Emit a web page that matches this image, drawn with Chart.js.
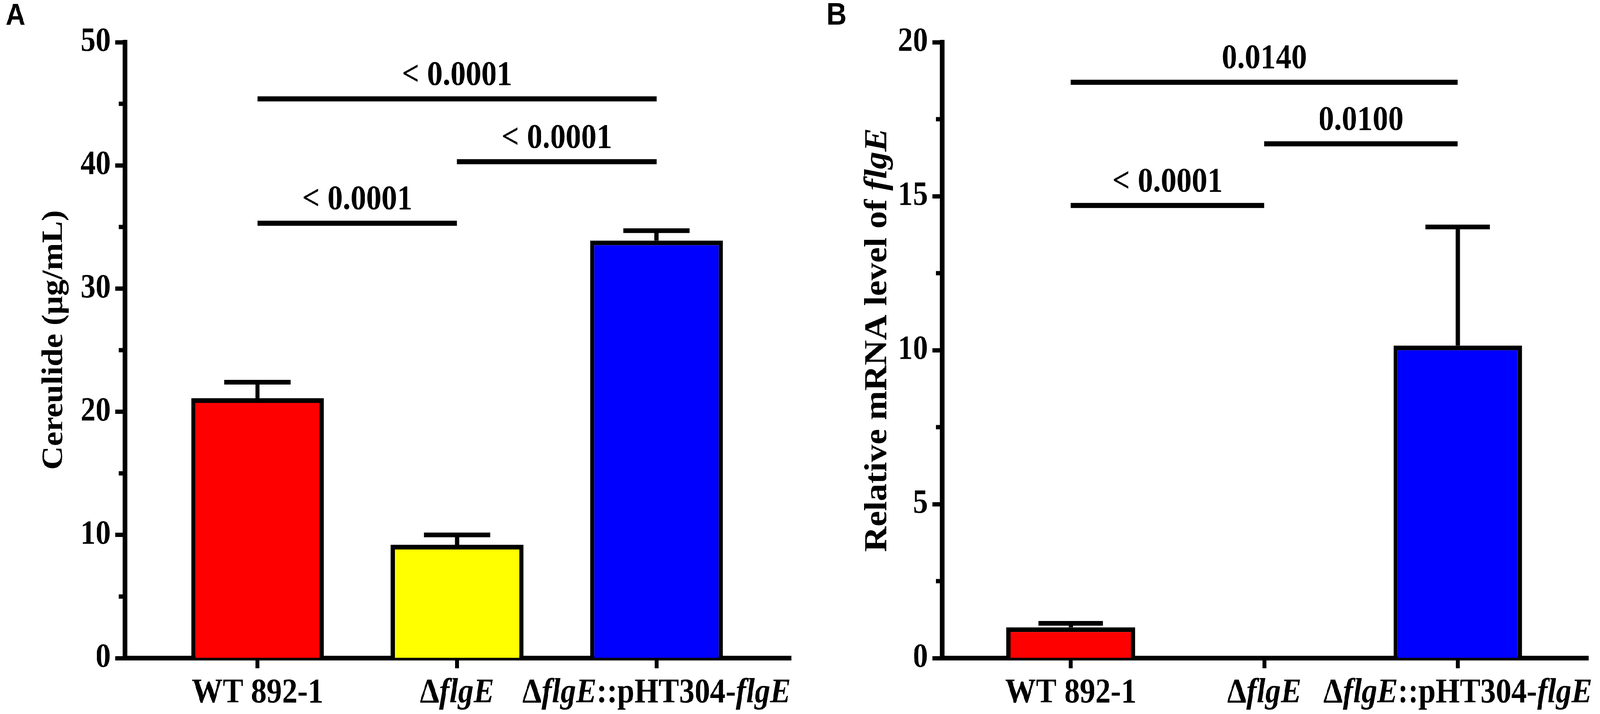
<!DOCTYPE html>
<html>
<head>
<meta charset="utf-8">
<script src="https://cdn.jsdelivr.net/npm/chart.js@4.4.1/dist/chart.umd.min.js"></script>
<style>
  html, body { margin: 0; padding: 0; background: #fff; overflow: hidden; }
  #wrap { position: relative; width: 4550px; height: 1827px; background: #fff; transform-origin: 0 0; }
  canvas { position: absolute; top: 0; }
</style>
</head>
<body>
<div id="wrap">
  <canvas id="panelA" width="2300" height="1827" style="left:0;width:2300px;height:1827px"></canvas>
  <canvas id="panelB" width="2250" height="1827" style="left:2300px;width:2250px;height:1827px"></canvas>
</div>
<script>
// Chart data
const groups = ["WT 892-1", "ΔflgE", "ΔflgE::pHT304-flgE"];

const cereulideMeans = [21.1, 9.2, 33.9];
const cereulideErrors = [1.3, 0.8, 0.8];
const cereulideTicks = [0, 10, 20, 30, 40, 50];
const cereulideMinor = [5, 15, 25, 35, 45];

const mrnaMeans = [1.0, 0, 10.15];
const mrnaErrors = [0.13, 0, 3.85];
const mrnaTicks = [0, 5, 10, 15, 20];
const mrnaMinor = [2.5, 7.5, 12.5, 17.5];

// significance brackets: [from group, to group], height, p value
const bracketPairs = [[0, 1], [1, 2], [0, 2]];
const cereulideBracketHeights = [35.3, 40.3, 45.4];
const cereulidePValues = ["< 0.0001", "< 0.0001", "< 0.0001"];
const mrnaBracketHeights = [14.7, 16.7, 18.7];
const mrnaPValues = ["< 0.0001", "0.0100", "0.0140"];

const barColors = ["#FF0000", "#FFFF00", "#0000FF"];

const SERIF = "'Liberation Serif', 'Times New Roman', serif";
const SANS = "'Liberation Sans', Arial, sans-serif";

// the figure is laid out at 4550 px wide; squeeze it if the window is narrower
const PAGE_W = 4550;
const fitX = Math.min(1, window.innerWidth / PAGE_W);
document.getElementById("wrap").style.transform = `scale(${fitX}, 1)`;

// group labels with italic gene names
const groupLabelParts = [
  [{ t: "WT 892-1" }],
  [{ t: "Δ" }, { t: "flgE", i: true }],
  [{ t: "Δ" }, { t: "flgE", i: true }, { t: "::pHT304-" }, { t: "flgE", i: true }],
];

// draw a line of text made of plain / italic pieces, centred on cx
function drawRich(ctx, parts, cx, y, size) {
  const fontOf = (p) => `${p.i ? "italic " : ""}bold ${size}px ${SERIF}`;
  let total = 0;
  parts.forEach((p) => {
    ctx.font = fontOf(p);
    total += ctx.measureText(p.t).width;
  });
  let x = cx - total / 2;
  ctx.textAlign = "left";
  parts.forEach((p) => {
    ctx.font = fontOf(p);
    ctx.fillText(p.t, x, y);
    x += ctx.measureText(p.t).width;
  });
}

const makePanel = (id, cfg) => {
  // extras: minor ticks, error bars, brackets, labels, titles
  const panelPlugin = {
    id: "panelExtras",
    afterDraw(chart) {
      const ctx = chart.ctx;
      const xs = chart.scales.x;
      const ys = chart.scales.y;
      ctx.save();
      ctx.strokeStyle = "#000";
      ctx.fillStyle = "#000";
      ctx.lineCap = "butt";

      // minor ticks on the y axis
      ctx.lineWidth = 11;
      cfg.minor.forEach((v) => {
        const py = ys.getPixelForValue(v);
        ctx.beginPath();
        ctx.moveTo(ys.right - 17, py);
        ctx.lineTo(ys.right, py);
        ctx.stroke();
      });

      // error bars (upper only)
      const meta = chart.getDatasetMeta(0);
      ctx.lineWidth = 12;
      meta.data.forEach((bar, i) => {
        const err = cfg.errors[i];
        if (!err) return;
        const top = ys.getPixelForValue(cfg.means[i] + err);
        const half = bar.width * 0.25;
        ctx.beginPath();
        ctx.moveTo(bar.x, bar.y);
        ctx.lineTo(bar.x, top);
        ctx.stroke();
        ctx.beginPath();
        ctx.moveTo(bar.x - half, top);
        ctx.lineTo(bar.x + half, top);
        ctx.stroke();
      });

      // significance brackets
      ctx.lineWidth = 13;
      bracketPairs.forEach((pair, k) => {
        const x1 = xs.getPixelForValue(pair[0]);
        const x2 = xs.getPixelForValue(pair[1]);
        const py = ys.getPixelForValue(cfg.bracketHeights[k]);
        ctx.beginPath();
        ctx.moveTo(x1, py);
        ctx.lineTo(x2, py);
        ctx.stroke();
        ctx.textBaseline = "alphabetic";
        drawRich(ctx, [{ t: cfg.pValues[k] }], (x1 + x2) / 2, py - 36, 88);
      });

      // group labels under the x axis
      ctx.textBaseline = "alphabetic";
      groupLabelParts.forEach((parts, i) => {
        drawRich(ctx, parts, xs.getPixelForValue(i), 1797, 88);
      });

      // rotated y axis title
      ctx.save();
      ctx.translate(cfg.titleX, 870);
      ctx.rotate(-Math.PI / 2);
      ctx.textBaseline = "middle";
      drawRich(ctx, cfg.title, 0, 0, cfg.titleSize);
      ctx.restore();

      // panel letter
      ctx.font = `bold ${cfg.letterSize}px ${SANS}`;
      ctx.textAlign = "left";
      ctx.textBaseline = "alphabetic";
      ctx.fillText(cfg.letter, cfg.letterX, cfg.letterY);
      ctx.restore();
    },
  };

  new Chart(document.getElementById(id), {
    type: "bar",
    data: {
      datasets: [
        {
          data: cfg.means.map((v, i) => ({ x: i, y: v })),
          backgroundColor: barColors,
          borderColor: "#000",
          borderWidth: 12,
          borderSkipped: "start",
          barPercentage: 0.665,
          categoryPercentage: 1,
        },
      ],
    },
    options: {
      responsive: false,
      animation: false,
      devicePixelRatio: 1,
      layout: { padding: { top: 108, right: cfg.padRight, bottom: 0, left: 0 } },
      plugins: { legend: { display: false }, tooltip: { enabled: false } },
      scales: {
        x: {
          type: "linear",
          min: -0.665,
          max: 2.675,
          offset: false,
          z: 1,
          afterBuildTicks: (s) => {
            s.ticks = groups.map((g, i) => ({ value: i }));
          },
          afterFit: (s) => {
            s.height = 143;
          },
          ticks: { display: false },
          grid: {
            offset: false,
            drawOnChartArea: false,
            drawTicks: true,
            tickLength: 26,
            tickWidth: 11,
            tickColor: "#000",
          },
          border: { display: true, color: "#000", width: 12 },
        },
        y: {
          min: 0,
          max: cfg.yMax,
          afterBuildTicks: (s) => {
            s.ticks = cfg.ticks.map((v) => ({ value: v }));
          },
          afterFit: (s) => {
            s.width = cfg.axisLeft;
          },
          ticks: {
            font: { family: SERIF, size: 86, weight: "bold" },
            color: "#000",
            padding: 13,
          },
          grid: {
            drawOnChartArea: false,
            tickLength: 27,
            tickWidth: 11,
            tickColor: "#000",
          },
          border: { color: "#000", width: 13 },
        },
      },
    },
    plugins: [panelPlugin],
  });
};

makePanel("panelA", {
  means: cereulideMeans,
  errors: cereulideErrors,
  ticks: cereulideTicks,
  minor: cereulideMinor,
  yMax: 50,
  bracketHeights: cereulideBracketHeights,
  pValues: cereulidePValues,
  title: [{ t: "Cereulide (μg/mL)" }],
  titleX: 155,
  titleSize: 84,
  axisLeft: 355,
  padRight: 50,
  letter: "A",
  letterX: 16,
  letterY: 64,
  letterSize: 78,
});

makePanel("panelB", {
  means: mrnaMeans,
  errors: mrnaErrors,
  ticks: mrnaTicks,
  minor: mrnaMinor,
  yMax: 20,
  bracketHeights: mrnaBracketHeights,
  pValues: mrnaPValues,
  title: [{ t: "Relative mRNA level of " }, { t: "flgE", i: true }],
  titleX: 197,
  titleSize: 90,
  axisLeft: 379,
  padRight: 33,
  letter: "B",
  letterX: 50,
  letterY: 63,
  letterSize: 80,
});
</script>
</body>
</html>
